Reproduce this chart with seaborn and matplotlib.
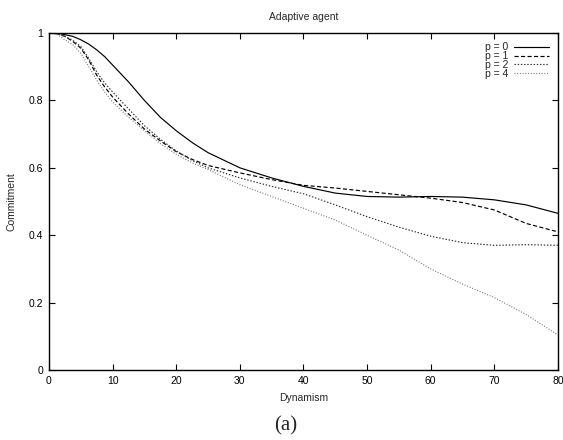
import matplotlib
matplotlib.use('Agg')
import matplotlib.pyplot as plt
import seaborn as sns
import pandas as pd

# values
dynamism = [0, 1.25, 2.5, 3.75, 5, 6.25, 7.5, 8.75, 10, 12.5, 15, 17.5, 20,
            22.5, 25, 30, 35, 40, 45, 50, 55, 60, 65, 70, 75, 80]
p0 = [1.0, 1.0, 0.995, 0.99, 0.98, 0.967, 0.95, 0.93, 0.905, 0.855, 0.80,
      0.75, 0.71, 0.675, 0.645, 0.60, 0.57, 0.545, 0.525, 0.515, 0.513, 0.515,
      0.513, 0.505, 0.49, 0.465]
p1 = [1.0, 0.998, 0.99, 0.975, 0.955, 0.92, 0.875, 0.84, 0.81, 0.76, 0.715,
      0.68, 0.648, 0.625, 0.607, 0.585, 0.565, 0.548, 0.54, 0.53, 0.52, 0.51,
      0.497, 0.475, 0.435, 0.41]
p2 = [1.0, 0.998, 0.99, 0.978, 0.96, 0.925, 0.885, 0.852, 0.825, 0.775,
      0.725, 0.685, 0.65, 0.622, 0.60, 0.57, 0.545, 0.523, 0.49, 0.455, 0.424,
      0.397, 0.378, 0.37, 0.372, 0.37]
p4 = [1.0, 0.997, 0.98, 0.965, 0.94, 0.90, 0.86, 0.825, 0.795, 0.75, 0.71,
      0.672, 0.64, 0.615, 0.595, 0.55, 0.515, 0.48, 0.445, 0.40, 0.356, 0.30,
      0.255, 0.215, 0.165, 0.104]

series = ['p = 0', 'p = 1', 'p = 2', 'p = 4']
values = [p0, p1, p2, p4]
colors = ['black', 'black', '#303030', '#707070']
dashes = [None, (3.5, 2), (1.2, 1.5), (0.8, 1.5)]

x_ticks = [0, 10, 20, 30, 40, 50, 60, 70, 80]
y_ticks = [0, 0.2, 0.4, 0.6, 0.8, 1]
y_labels = ['0', '0.2', '0.4', '0.6', '0.8', '1']

sns.set_style('ticks')
plt.rcParams['font.family'] = ['Liberation Sans', 'DejaVu Sans']
plt.rcParams['font.size'] = 7.5

fig = plt.figure(figsize=(5.63, 4.40), dpi=100)
ax = fig.add_axes([0.087, 0.159, 0.904, 0.766])

for name, vals, col, dash in zip(series, values, colors, dashes):
    df = pd.DataFrame({'Dynamism': dynamism, 'Commitment': vals})
    line = sns.lineplot(data=df, x='Dynamism', y='Commitment', ax=ax,
                        color=col, linewidth=0.85, label=name)
    if dash is not None:
        line.get_lines()[-1].set_dashes(dash)

ax.set_xlim(0, 80)
ax.set_ylim(0, 1)
ax.set_xticks(x_ticks)
ax.set_xticklabels([str(t) for t in x_ticks])
ax.set_yticks(y_ticks)
ax.set_yticklabels(y_labels)
ax.tick_params(direction='in', length=4, width=0.8, top=True, right=True,
               labelsize=7.5, colors='black', pad=4)
for s in ax.spines.values():
    s.set_linewidth(1.0)
    s.set_color('black')

ax.set_xlabel('Dynamism', fontsize=7.5, labelpad=5)
ax.set_ylabel('Commitment', fontsize=7.5, labelpad=9)
ax.set_title('Adaptive agent', fontsize=7.5, pad=9)

ax.legend(loc='upper right', bbox_to_anchor=(0.99, 0.985), frameon=False,
          markerfirst=False, fontsize=7.5, handlelength=3.3,
          labelspacing=-0.1, handletextpad=0.6, borderaxespad=0.2,
          borderpad=0.2)

fig.text(0.508, 0.032, '(a)', ha='center', va='center', fontsize=15,
         family=['Liberation Serif', 'DejaVu Serif'])

plt.savefig('out.png', dpi=100)
plt.close()
